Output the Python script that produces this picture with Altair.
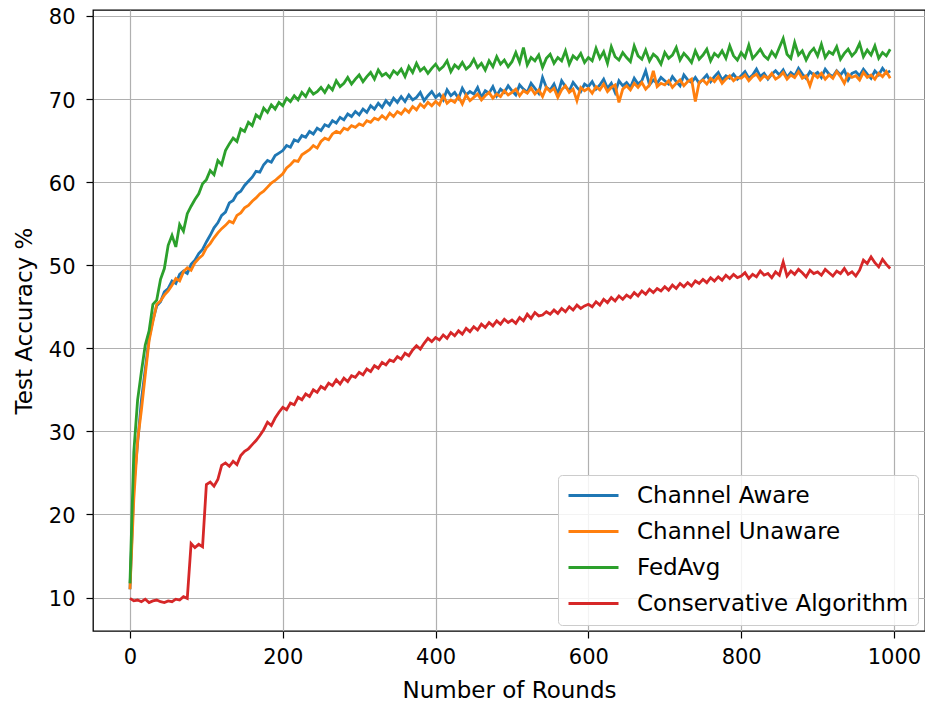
import altair as alt
import pandas as pd

rounds = list(range(0, 1000, 5))

series_names = ["Channel Aware", "Channel Unaware", "FedAvg", "Conservative Algorithm"]
series_colors = ["#1f77b4", "#ff7f0e", "#2ca02c", "#d62728"]

channel_aware = [
    11.0, 23.5, 28.6, 33.8, 37.5, 41.2, 43.4, 45.1, 45.6, 46.8,
    47.2, 48.1, 47.8, 48.9, 49.3, 49.0, 50.1, 50.6, 51.4, 51.9,
    52.8, 53.6, 54.5, 55.1, 56.0, 56.4, 57.5, 57.8, 58.6, 58.9,
    59.6, 60.1, 60.6, 61.3, 61.2, 62.1, 62.6, 62.4, 63.2, 63.5,
    63.8, 64.4, 64.2, 65.1, 64.9, 65.6, 65.4, 66.1, 65.8, 66.5,
    66.2, 66.9, 66.7, 67.4, 67.1, 67.8, 67.5, 68.2, 67.9, 68.5,
    68.1, 68.8, 68.4, 69.2, 68.8, 69.5, 69.0, 69.8, 69.3, 70.1,
    69.6, 70.3, 69.7, 70.5, 69.9, 70.2, 70.8, 69.8, 70.4, 70.9,
    70.2, 70.6, 69.9, 71.1, 70.4, 70.8, 70.1, 71.3, 70.5, 70.9,
    70.6, 71.4, 70.2, 71.0, 70.7, 71.5, 70.4, 71.2, 70.8, 71.6,
    71.0, 70.5, 71.7, 71.2, 70.8, 71.9, 71.3, 70.7, 72.6, 71.4,
    71.1, 71.8, 70.6, 72.2, 71.5, 71.0, 72.0, 71.4, 70.9, 71.8,
    71.5, 72.1, 71.2, 71.7, 72.4, 71.3, 71.9, 70.8, 72.2, 71.6,
    72.0, 71.4, 72.5, 71.8, 72.2, 73.4, 71.7, 72.3, 71.9, 72.6,
    72.2, 71.8, 72.7, 72.1, 71.6, 72.9, 72.3, 72.0, 72.6, 71.9,
    72.4, 72.9, 72.1, 72.7, 73.2, 72.3, 72.8, 72.5, 73.0, 72.4,
    72.8, 73.3, 72.5, 72.9, 73.6, 72.7, 73.1, 72.4, 73.0, 73.4,
    72.9, 73.5, 72.6, 73.2, 72.8, 73.7, 73.0, 72.5, 73.3, 72.9,
    73.2, 72.6, 73.6, 73.0, 72.7, 73.4, 72.9, 73.5, 72.3, 73.1,
    73.3, 72.8, 73.6, 73.0, 72.5, 73.4, 72.9, 73.7, 73.1, 73.4,
]

channel_unaware = [
    11.0, 21.8, 28.9, 32.6, 36.8, 40.9, 43.2, 45.3, 45.7, 46.4,
    46.9, 47.6, 48.4, 48.1, 49.2, 49.7, 49.4, 50.3, 50.8, 51.2,
    52.1, 52.6, 53.3, 53.9, 54.4, 54.8, 55.3, 55.1, 56.0, 56.3,
    56.9, 57.2, 57.7, 58.1, 58.6, 58.9, 59.4, 59.9, 60.2, 60.6,
    61.0, 61.7, 62.1, 62.6, 62.5, 63.3, 63.6, 63.9, 64.4, 64.1,
    64.9, 65.3, 65.1, 65.8, 66.1, 65.9, 66.5, 66.3, 66.8, 66.6,
    67.0, 66.8, 67.4, 67.2, 67.7, 67.5, 68.0, 67.6, 68.3, 67.9,
    68.5, 68.2, 68.8, 68.4, 69.1, 68.7, 69.4, 69.0, 69.6, 69.2,
    69.7, 69.3, 70.4, 69.5, 69.9, 69.6, 70.3, 69.4, 70.5, 69.8,
    70.2, 70.6, 69.9, 70.4, 70.8, 70.1, 70.6, 70.3, 71.0, 70.5,
    70.8, 71.2, 70.4, 71.0, 70.7, 71.3, 70.6, 71.1, 70.3, 71.4,
    70.9, 71.3, 70.2, 71.1, 71.6, 70.8, 71.2, 69.8, 71.4, 71.0,
    71.3, 70.7, 71.5, 71.1, 71.8, 70.9, 71.4, 71.7, 69.6, 71.2,
    71.6, 71.1, 71.9, 71.4, 72.0, 71.2, 71.7, 73.4, 71.5, 71.9,
    71.7, 72.2, 71.4, 71.9, 72.3, 71.6, 72.1, 72.4, 69.7, 72.0,
    72.3, 71.8, 72.5, 72.1, 72.7, 71.9, 72.4, 72.8, 72.2, 72.6,
    72.5, 72.9, 72.2, 72.7, 73.0, 72.3, 72.8, 72.5, 73.1, 72.4,
    72.7, 73.2, 72.4, 72.9, 72.6, 73.3, 72.5, 72.8, 71.6, 73.0,
    72.6, 73.1, 72.4, 72.9, 72.5, 73.3, 72.7, 71.9, 73.0, 72.6,
    72.8, 72.3, 73.2, 72.6, 72.9, 72.4, 73.1, 72.7, 73.3, 72.5,
]

fedavg = [
    11.7, 27.5, 33.8, 37.2, 40.4, 42.1, 45.3, 45.8, 48.3, 49.6,
    52.4, 53.6, 52.2, 54.9, 54.1, 56.2, 57.1, 57.9, 58.6, 59.8,
    60.3, 61.4, 60.9, 62.6, 62.1, 63.8, 64.6, 65.3, 64.9, 66.4,
    66.1, 67.2, 66.8, 68.1, 67.7, 68.9, 68.4, 69.3, 68.8, 69.6,
    69.2, 70.1, 69.7, 70.4, 69.9, 70.8, 70.3, 71.2, 70.6, 70.9,
    71.4, 70.8, 71.6, 71.1, 72.2, 71.5, 71.9, 72.6, 71.8, 72.4,
    72.9, 72.1, 72.7, 73.2, 72.4, 73.5, 72.8, 73.1, 72.6, 73.4,
    73.0, 73.6, 72.7, 73.9, 73.2, 74.3, 73.4, 73.8, 73.1, 73.7,
    74.2, 73.5, 73.9, 74.6, 73.3, 74.1, 73.7, 74.4, 73.6, 74.0,
    74.8, 73.8, 74.3, 73.5, 74.6, 73.9, 75.1, 74.2, 74.7, 73.9,
    74.5, 75.6, 74.4, 76.2, 74.1, 75.0, 74.6, 75.3, 73.8, 74.9,
    75.4, 74.3, 75.0, 74.6, 75.8, 74.2, 75.2, 74.8, 75.5, 74.4,
    75.0, 74.6, 76.1, 74.9, 75.7, 74.3, 76.3, 75.1, 74.7, 75.6,
    75.0, 74.5, 76.4, 75.2, 74.8, 75.9, 74.6, 75.4, 75.0, 74.2,
    75.6, 74.9, 75.3, 76.2, 74.7, 75.5, 75.0, 74.4, 75.8, 74.8,
    75.3, 76.0, 74.6, 75.5, 75.1, 75.8, 74.9, 76.4, 75.2, 74.7,
    75.6, 75.0, 76.5, 74.9, 75.4, 76.0, 75.2, 74.8, 75.7, 75.1,
    76.2, 77.3, 75.4, 74.9, 76.8, 75.3, 75.8, 74.7, 75.6, 76.1,
    75.2, 76.6, 75.0, 75.7, 75.4, 76.3, 74.8, 75.5, 76.0, 75.2,
    75.7, 76.7, 75.1, 75.9, 75.3, 76.4, 74.9, 75.6, 75.2, 76.0,
]

conservative = [
    9.9, 9.6, 9.7, 9.5, 9.8, 9.4, 9.6, 9.7, 9.5, 9.4,
    9.6, 9.5, 9.8, 9.7, 10.1, 9.9, 16.5, 16.0, 16.4, 16.1,
    23.6, 23.9, 23.4, 24.2, 25.9, 26.2, 25.8, 26.4, 26.0, 27.1,
    27.6, 27.9, 28.4, 28.9, 29.5, 30.2, 31.1, 30.7, 31.6, 32.3,
    32.9, 32.6, 33.4, 33.2, 34.1, 33.8, 34.5, 34.2, 35.0, 34.7,
    35.4, 35.1, 35.8, 35.5, 36.2, 35.7, 36.4, 36.0, 36.7, 36.5,
    37.1, 36.8, 37.5, 37.2, 37.9, 37.6, 38.3, 38.0, 38.6, 38.4,
    39.0, 38.7, 39.4, 39.1, 39.8, 40.3, 39.9, 40.6, 41.2, 40.8,
    41.3, 41.0, 41.6, 41.2, 41.9, 41.5, 42.1, 41.7, 42.4, 42.0,
    42.6, 42.2, 42.9, 42.5, 43.1, 42.7, 43.3, 42.9, 43.5, 43.1,
    43.4, 43.0, 43.7, 43.3, 44.1, 43.6, 44.3, 43.9, 44.0, 44.4,
    44.1, 44.6, 44.2, 44.8, 44.4, 45.0, 44.6, 45.2, 44.8, 45.1,
    45.3, 45.0, 45.6, 45.2, 45.9, 45.5, 46.1, 45.7, 46.3, 45.9,
    46.4, 46.1, 46.7, 46.3, 46.9, 46.5, 47.1, 46.7, 47.2, 46.9,
    47.4, 47.0, 47.6, 47.2, 47.8, 47.4, 47.9, 47.5, 48.1, 47.8,
    48.3, 47.9, 48.5, 48.1, 48.6, 48.2, 48.8, 48.4, 48.9, 48.5,
    48.7, 49.1, 48.4, 48.9, 48.6, 49.3, 48.8, 49.0, 48.5, 49.2,
    48.8, 50.4, 48.7, 49.3, 48.9, 49.5, 49.1, 48.6, 49.4, 49.0,
    49.2, 48.8, 49.5, 49.1, 48.7, 49.3, 49.0, 49.6, 48.9, 49.2,
    48.7, 49.4, 50.6, 50.2, 51.0, 50.3, 49.8, 50.7, 50.1, 49.6,
]

x_ticks = [0, 200, 400, 600, 800, 1000]
y_ticks = [10, 20, 30, 40, 50, 60, 70, 80]

frames = []
for name, vals in zip(series_names, [channel_aware, channel_unaware, fedavg, conservative]):
    frames.append(pd.DataFrame({"round": rounds, "acc": vals, "series": name}))
df = pd.concat(frames, ignore_index=True)

FONT = "DejaVu Sans"

x_enc = alt.X(
    "round:Q",
    scale=alt.Scale(domain=[-48.4, 1040.6], nice=False, zero=False),
    axis=alt.Axis(
        title="Number of Rounds",
        values=x_ticks,
        format="d",
        labelFontSize=21,
        titleFontSize=23,
        labelPadding=8,
        titlePadding=12,
        tickSize=7,
    ),
)
y_enc = alt.Y(
    "acc:Q",
    scale=alt.Scale(domain=[5.97, 80.72], nice=False, zero=False),
    axis=alt.Axis(
        title="Test Accuracy %",
        values=y_ticks,
        format="d",
        labelFontSize=21,
        labelBaseline="alphabetic",
        labelOffset=8,
        titleFontSize=23,
        labelPadding=11,
        titlePadding=12,
        tickSize=7,
    ),
)
color_enc = alt.Color(
    "series:N",
    scale=alt.Scale(domain=series_names, range=series_colors),
    legend=alt.Legend(
        title=None,
        orient="none",
        legendX=465,
        legendY=465,
        symbolType="stroke",
        symbolSize=2500,
        symbolStrokeWidth=3,
        clipHeight=23,
        labelFontSize=23,
        labelLimit=400,
        labelOffset=17,
        rowPadding=12,
        padding=9,
        strokeColor="#cccccc",
        fillColor="rgba(255,255,255,0.85)",
        cornerRadius=4,
        labelFont=FONT,
    ),
)

layers = []
for name in series_names:
    layers.append(
        alt.Chart(df)
        .transform_filter(alt.datum.series == name)
        .mark_line(strokeWidth=2.8, clip=True)
        .encode(x=x_enc, y=y_enc, color=color_enc)
    )

chart = (
    alt.layer(*layers)
    .properties(
        width=832,
        height=621,
        autosize=alt.AutoSizeParams(type="none"),
        padding={"left": 85, "top": 2, "right": 0, "bottom": 70},
    )
    .configure(font=FONT)
    .configure_view(stroke="black", strokeWidth=1.3)
    .configure_axis(
        domain=False,
        grid=True,
        gridColor="#b0b0b0",
        gridWidth=1.2,
        tickColor="black",
        tickWidth=1.2,
        labelColor="black",
        titleColor="black",
        titleFontWeight="normal",
        labelFont=FONT,
        titleFont=FONT,
    )
)

chart.save("out.html", embed_options={"renderer": "svg", "actions": False})
